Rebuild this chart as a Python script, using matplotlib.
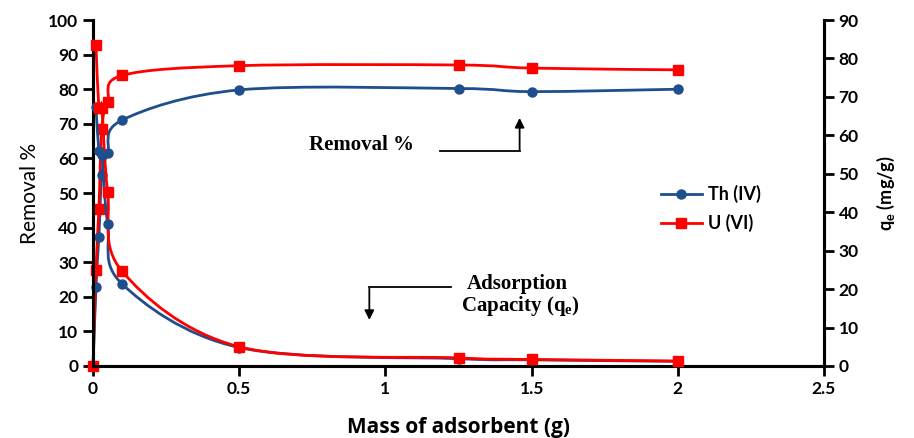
import matplotlib
matplotlib.use('Agg')
import matplotlib.pyplot as plt
from matplotlib.path import Path
from matplotlib.patches import PathPatch
from matplotlib.lines import Line2D

# Масса сорбента (г)
mass_removal = [0, 0.01, 0.02, 0.03, 0.05, 0.1, 0.5, 1.25, 1.5, 2]
mass_qe = [0.01, 0.02, 0.03, 0.05, 0.1, 0.5, 1.25, 1.5, 2]

# Степень извлечения, %
th_removal = [0, 22.9, 37.4, 55.2, 61.5, 71.1, 79.8, 80.2, 79.3, 80.0]
u_removal = [0, 27.7, 45.5, 68.5, 76.4, 84.0, 86.8, 87.0, 86.1, 85.6]

# Сорбционная ёмкость qe (мг/г)
th_qe = [67.5, 56.0, 55.0, 37.0, 21.3, 4.8, 1.9, 1.6, 1.2]
u_qe = [83.5, 67.0, 67.0, 45.2, 24.6, 5.0, 2.1, 1.7, 1.3]

blue = '#1f4e8c'
red = '#ff0000'
plt.rcParams['font.family'] = ['Lato', 'DejaVu Sans']


def smooth_line(ax, x, y, color):
    # сглаженная линия как в Excel (Catmull-Rom -> Безье)
    n = len(x)
    verts = [(x[0], y[0])]
    codes = [Path.MOVETO]
    for i in range(n - 1):
        x0, y0 = (x[i - 1], y[i - 1]) if i > 0 else (x[i], y[i])
        x3, y3 = (x[i + 2], y[i + 2]) if i + 2 < n else (x[i + 1], y[i + 1])
        c1 = (x[i] + (x[i + 1] - x0) / 6, y[i] + (y[i + 1] - y0) / 6)
        c2 = (x[i + 1] - (x3 - x[i]) / 6, y[i + 1] - (y3 - y[i]) / 6)
        verts += [c1, c2, (x[i + 1], y[i + 1])]
        codes += [Path.CURVE4] * 3
    ax.add_patch(PathPatch(Path(verts, codes), fill=False, edgecolor=color,
                           linewidth=2.0, clip_on=False, zorder=2))


fig = plt.figure(figsize=(9.14, 4.38), dpi=100)
ax1 = fig.add_axes([0.1018, 0.1644, 0.7997, 0.7899])
ax2 = ax1.twinx()

# левая ось: Removal %
smooth_line(ax1, mass_removal, th_removal, blue)
smooth_line(ax1, mass_removal, u_removal, red)
ax1.plot(mass_removal, th_removal, 'o', color=blue, markersize=6.5, clip_on=False, zorder=3)
ax1.plot(mass_removal, u_removal, 's', color=red, markersize=7.5, clip_on=False, zorder=3)

# правая ось: qe
smooth_line(ax2, mass_qe, th_qe, blue)
smooth_line(ax2, mass_qe, u_qe, red)
ax2.plot(mass_qe, th_qe, 'o', color=blue, markersize=6.5, clip_on=False, zorder=3)
ax2.plot(mass_qe, u_qe, 's', color=red, markersize=7.5, clip_on=False, zorder=3)

ax1.set_xlim(0, 2.5)
ax1.set_ylim(0, 100)
ax2.set_ylim(0, 90)
ax1.set_xticks([0, 0.5, 1, 1.5, 2, 2.5])
ax1.set_xticklabels(['0', '0.5', '1', '1.5', '2', '2.5'])
ax1.set_yticks(range(0, 101, 10))
ax2.set_yticks(range(0, 91, 10))

for ax in (ax1, ax2):
    ax.spines['top'].set_visible(False)
    for s in ('left', 'bottom', 'right'):
        ax.spines[s].set_linewidth(2.2)
    ax.tick_params(width=2, length=7, labelsize=12.5)
    for lab in ax.get_xticklabels() + ax.get_yticklabels():
        lab.set_fontweight('bold')

ax1.set_xlabel('Mass of adsorbent (g)', fontsize=15, fontweight='bold', family='Open Sans')
ax1.xaxis.set_label_coords(0.5, -0.146)
ax1.set_ylabel('Removal %', fontsize=15, labelpad=6)
ax2.set_ylabel(r'$\mathregular{q_e}$ (mg/g)', fontsize=13, fontweight='bold', labelpad=12)

# подписи со стрелками
serif = dict(family='Liberation Serif', fontweight='bold', fontsize=15)
ax1.text(0.918, 63.9, 'Removal %', ha='center', va='center', **serif)
ax1.plot([1.185, 1.459], [62.1, 62.1], color='black', linewidth=1.3)
ax1.annotate('', xy=(1.459, 72.5), xytext=(1.459, 61.7),
             arrowprops=dict(arrowstyle='-|>', color='black', lw=1.3, mutation_scale=14))
ax1.text(1.452, 23.7, 'Adsorption', ha='center', va='center', **serif)
ax1.text(1.462, 17.4, r'Capacity ($\mathregular{q_e}$)', ha='center', va='center', **serif)
ax1.plot([0.945, 1.223], [22.8, 22.8], color='black', linewidth=1.3)
ax1.annotate('', xy=(0.945, 12.5), xytext=(0.945, 23.2),
             arrowprops=dict(arrowstyle='-|>', color='black', lw=1.3, mutation_scale=14))

handles = [Line2D([], [], color=blue, marker='o', linewidth=2, markersize=6.5),
           Line2D([], [], color=red, marker='s', linewidth=2, markersize=7.5)]
fig.legend(handles, ['Th (IV)', 'U (VI)'], loc='upper left', bbox_to_anchor=(0.705, 0.615),
           frameon=False, prop=dict(weight='bold', size=13), handlelength=2.3,
           handletextpad=0.3, labelspacing=0.6)

fig.savefig('out.png', dpi=100)
